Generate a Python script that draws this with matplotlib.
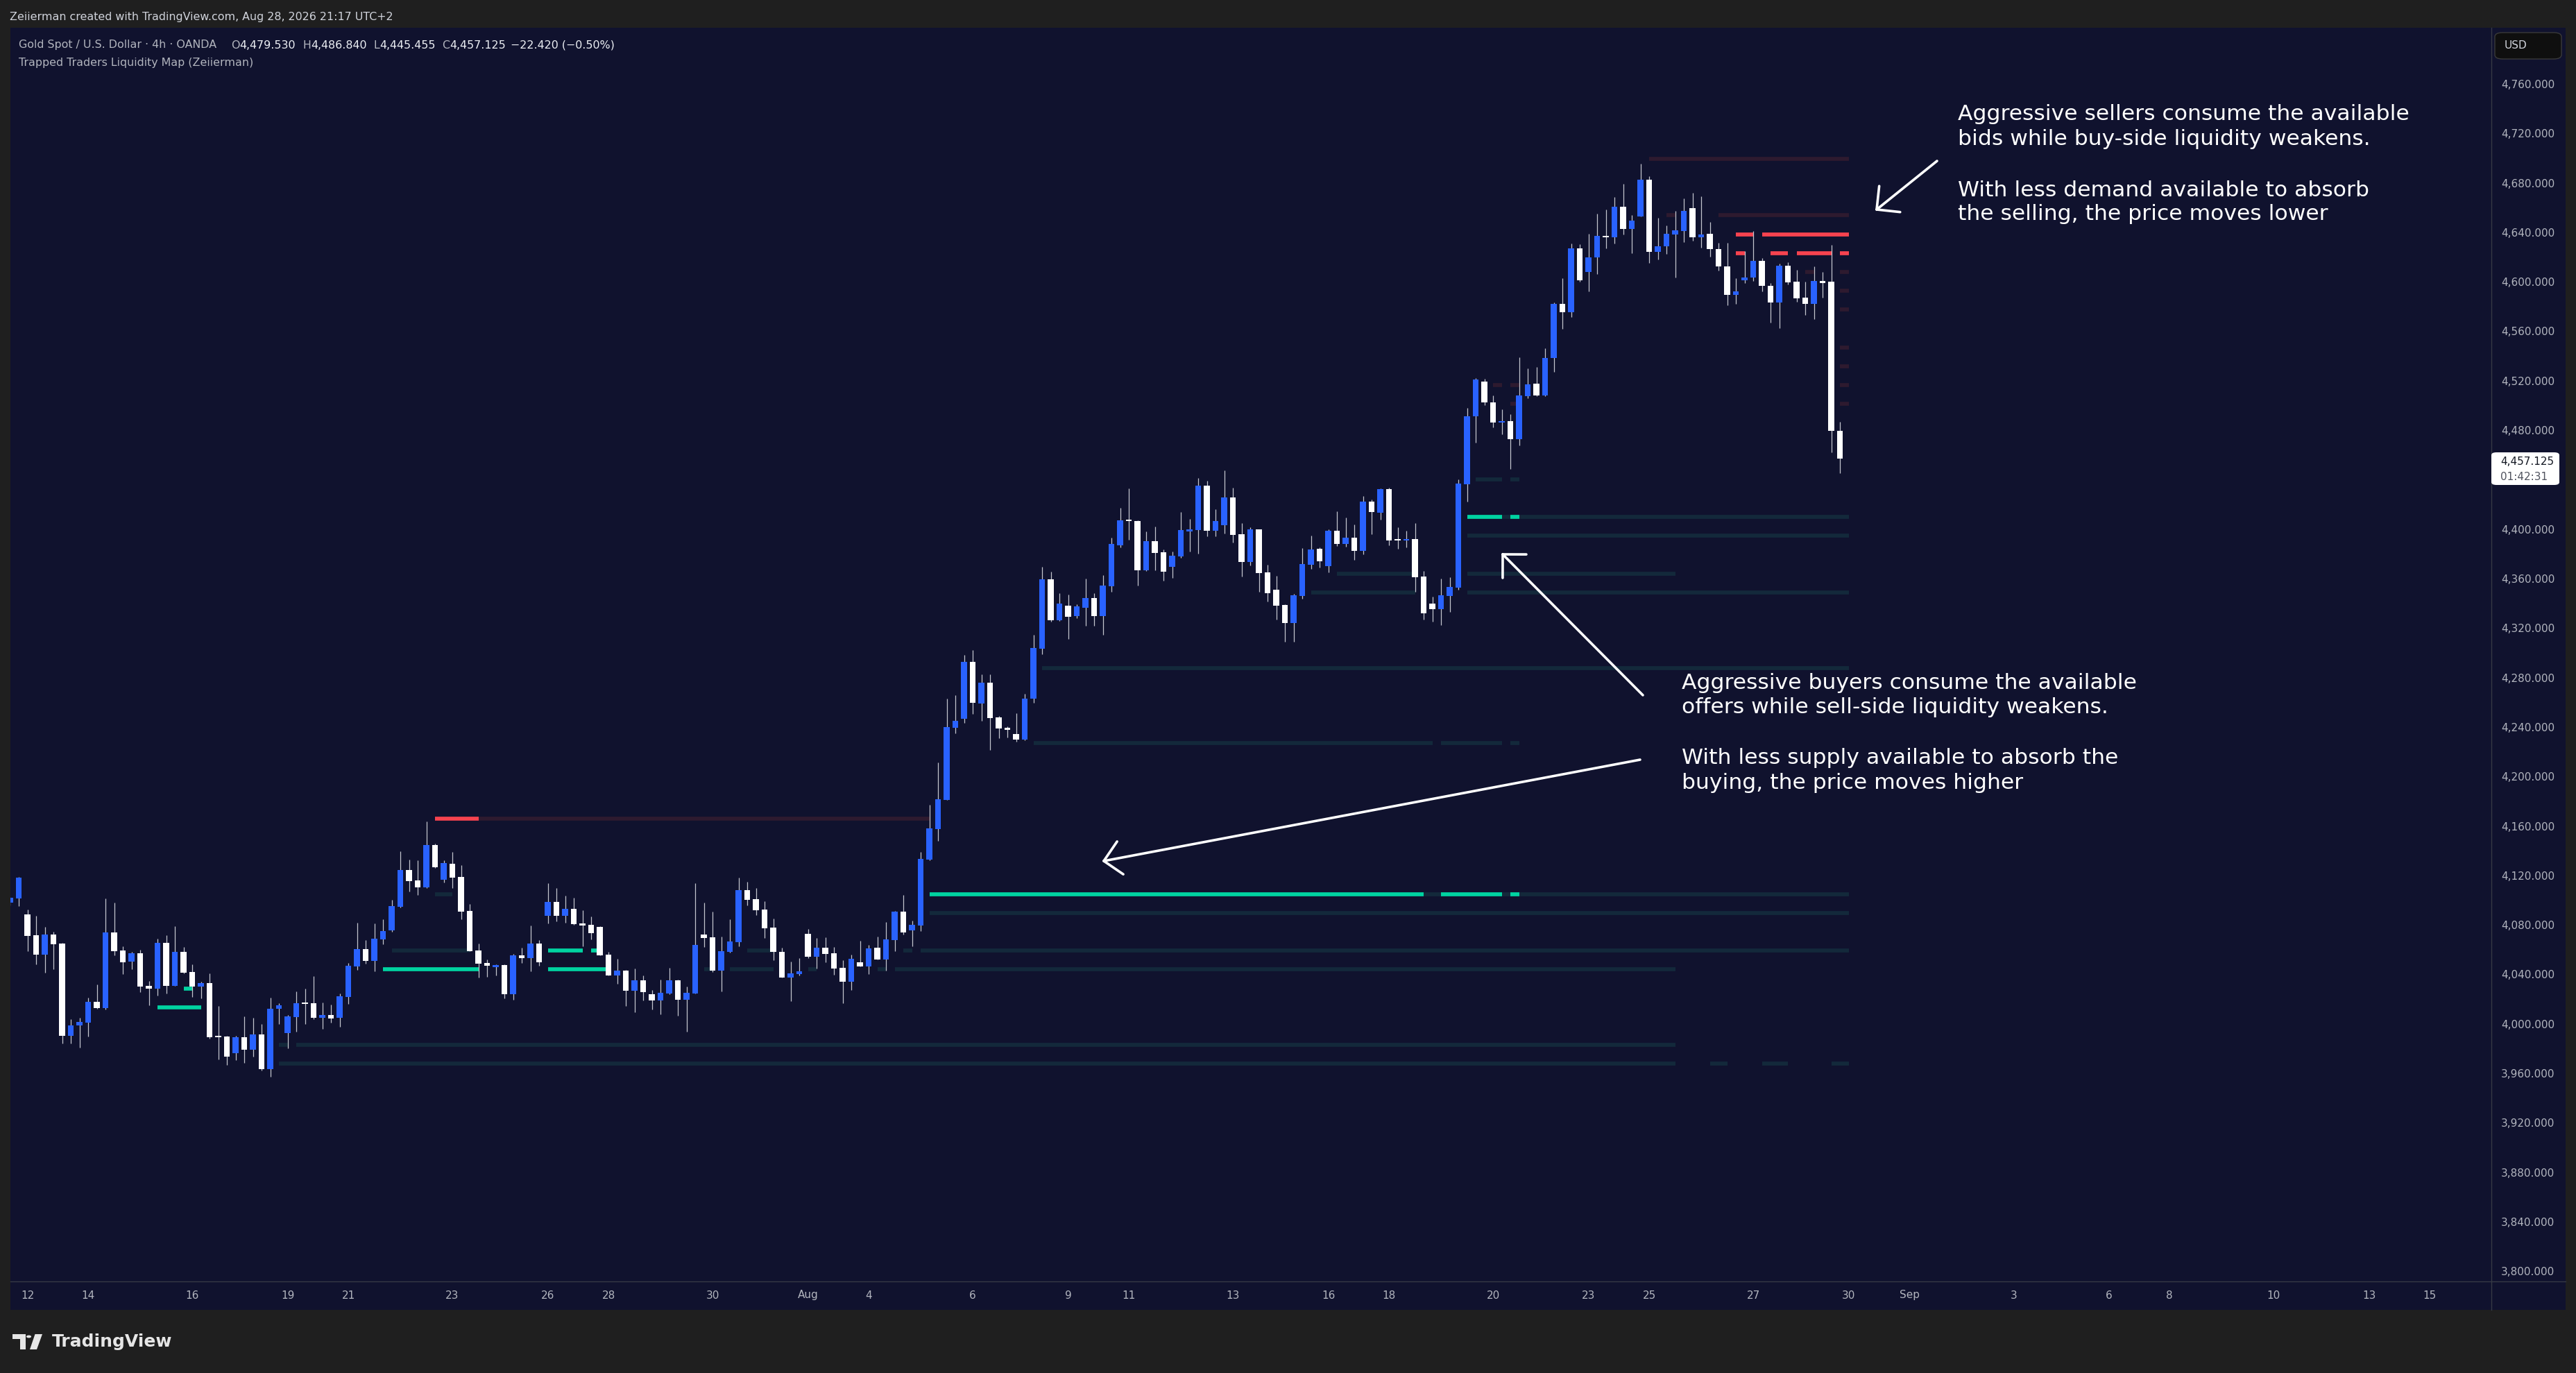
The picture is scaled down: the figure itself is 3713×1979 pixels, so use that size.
import matplotlib
matplotlib.use("Agg")
import numpy as np
import matplotlib.pyplot as plt
from matplotlib.patches import Rectangle, FancyBboxPatch, Polygon, Circle
from matplotlib.lines import Line2D

W, H = 3713, 1979

# 4h candles (index 0 = first partly visible bar)
opens = [4098.2, 4101.3, 4088.5, 4071.6, 4056.1, 4072.2, 4064.9, 3990.5, 3998.9, 4001.2,
         4017.8, 4012.9, 4073.9, 4059.3, 4050.5, 4057.1, 4030.7, 4028.4, 4065.5, 4030.9,
         4058.2, 4041.9, 4030.3, 4032.9, 3989.8, 3989.8, 3976.5, 3989.2, 3979.3, 3991.4,
         3963.6, 4012.4, 3992.7, 4005.6, 4016.7, 4016.7, 4004.9, 4007.1, 4004.9, 4021.9,
         4046.4, 4060.4, 4050.9, 4068.3, 4075.6, 4094.6, 4124.4, 4116.0, 4110.5, 4144.6,
         4116.7, 4129.4, 4118.8, 4091.3, 4059.3, 4049.2, 4046.0, 4047.5, 4024.1, 4055.4,
         4053.1, 4064.9, 4087.5, 4098.6, 4087.5, 4093.0, 4081.2, 4080.1, 4078.4, 4055.9,
         4039.3, 4043.0, 4026.9, 4035.2, 4023.9, 4018.9, 4024.5, 4035.2, 4019.5, 4024.5,
         4072.2, 4070.0, 4043.0, 4058.2, 4066.0, 4108.1, 4100.8, 4092.4, 4077.8, 4058.2,
         4037.4, 4040.2, 4072.8, 4054.3, 4061.5, 4057.1, 4045.3, 4034.0, 4049.8, 4046.4,
         4061.5, 4052.0, 4067.7, 4090.7, 4075.6, 4079.5, 4132.8, 4157.5, 4181.0, 4239.4,
         4246.9, 4292.7, 4259.2, 4275.9, 4247.8, 4239.4, 4234.3, 4230.0, 4262.9, 4303.4,
         4359.4, 4326.3, 4338.1, 4329.7, 4336.4, 4344.3, 4329.7, 4353.8, 4386.9, 4407.1,
         4406.6, 4366.7, 4390.3, 4381.3, 4369.5, 4377.9, 4398.3, 4399.3, 4435.2, 4398.7,
         4403.2, 4425.6, 4395.9, 4373.5, 4399.8, 4365.1, 4351.0, 4338.7, 4324.1, 4346.0,
         4371.2, 4384.1, 4370.1, 4398.7, 4388.1, 4393.1, 4382.4, 4422.3, 4413.3, 4432.4,
         4391.4, 4390.9, 4392.0, 4361.7, 4339.8, 4335.3, 4346.0, 4352.7, 4436.4, 4491.0,
         4519.3, 4502.5, 4486.5, 4487.3, 4472.5, 4507.6, 4517.6, 4508.0, 4538.4, 4582.2,
         4575.4, 4627.0, 4607.7, 4619.5, 4637.0, 4635.8, 4660.6, 4643.0, 4653.1, 4682.6,
         4624.0, 4628.5, 4638.5, 4641.3, 4659.6, 4635.8, 4638.8, 4626.3, 4612.7, 4589.2,
         4601.0, 4603.2, 4617.0, 4597.0, 4583.4, 4613.0, 4600.2, 4587.2, 4582.4, 4600.7,
         4600.2, 4479.53]
highs = [4102.5, 4118.8, 4092.4, 4087.3, 4078.4, 4074.6, 4065.5, 4003.8, 4005.1, 4021.2,
         4031.8, 4101.4, 4098.0, 4062.7, 4058.4, 4059.9, 4034.6, 4068.8, 4071.6, 4079.0,
         4062.1, 4048.1, 4034.1, 4040.8, 4014.4, 3990.1, 3990.1, 4006.0, 4004.9, 3999.8,
         4021.2, 4016.7, 4007.1, 4026.2, 4028.4, 4038.5, 4017.2, 4015.5, 4024.5, 4049.2,
         4081.7, 4067.7, 4081.2, 4084.5, 4100.3, 4139.5, 4132.8, 4132.2, 4163.6, 4145.7,
         4132.2, 4139.0, 4128.3, 4096.9, 4064.9, 4052.0, 4048.1, 4048.1, 4056.5, 4061.5,
         4079.5, 4067.7, 4113.7, 4109.8, 4103.6, 4101.9, 4091.8, 4086.8, 4079.0, 4058.2,
         4052.6, 4043.8, 4044.7, 4039.1, 4027.3, 4035.7, 4045.3, 4035.7, 4030.1, 4113.7,
         4098.0, 4090.7, 4070.5, 4084.5, 4118.2, 4114.8, 4109.8, 4099.1, 4085.1, 4061.5,
         4050.3, 4053.1, 4076.7, 4069.4, 4070.0, 4062.1, 4051.5, 4055.9, 4067.2, 4063.8,
         4070.5, 4082.3, 4091.3, 4104.2, 4083.4, 4139.0, 4177.1, 4211.3, 4262.9, 4265.7,
         4298.3, 4302.2, 4282.6, 4282.6, 4248.9, 4240.7, 4251.2, 4266.9, 4314.6, 4369.5,
         4365.6, 4348.2, 4347.1, 4339.0, 4360.0, 4348.2, 4362.8, 4393.1, 4417.2, 4432.9,
         4407.1, 4398.1, 4402.1, 4383.6, 4381.9, 4413.8, 4408.2, 4441.5, 4439.1, 4416.1,
         4447.5, 4433.5, 4404.9, 4401.5, 4400.0, 4371.2, 4362.2, 4339.0, 4347.7, 4384.7,
         4394.8, 4385.0, 4399.8, 4414.4, 4409.4, 4403.8, 4426.8, 4424.0, 4432.9, 4433.5,
         4401.5, 4398.7, 4404.9, 4366.2, 4345.4, 4360.0, 4361.1, 4440.2, 4497.8, 4522.3,
         4521.6, 4508.0, 4497.0, 4493.0, 4538.9, 4530.1, 4531.1, 4546.4, 4583.4, 4603.0,
         4630.8, 4630.5, 4638.8, 4655.1, 4658.6, 4668.6, 4679.1, 4654.1, 4695.4, 4685.4,
         4651.8, 4645.5, 4657.3, 4667.3, 4671.9, 4669.1, 4648.1, 4631.5, 4631.3, 4603.0,
         4625.0, 4641.0, 4619.3, 4599.2, 4614.7, 4616.0, 4609.7, 4600.2, 4612.5, 4608.0,
         4629.8, 4486.84]
lows = [4095.5, 4095.4, 4058.9, 4048.1, 4041.5, 4044.3, 3984.1, 3984.1, 3980.7, 3989.9,
        4012.2, 4011.8, 4055.6, 4040.2, 4044.3, 4025.6, 4015.0, 4022.8, 4024.5, 4030.5,
        4040.6, 4021.9, 4020.8, 3988.2, 3971.4, 3966.7, 3970.8, 3968.6, 3973.3, 3962.1,
        3957.4, 4000.0, 3980.4, 3993.8, 4000.0, 4004.0, 3996.1, 4001.2, 3997.6, 4016.3,
        4043.6, 4048.8, 4042.5, 4064.5, 4074.4, 4094.1, 4107.0, 4104.2, 4110.0, 4126.2,
        4114.3, 4109.8, 4084.5, 4058.5, 4037.6, 4038.2, 4039.3, 4020.8, 4019.7, 4049.2,
        4042.6, 4047.0, 4081.2, 4082.9, 4081.7, 4080.2, 4062.8, 4068.5, 4055.2, 4039.0,
        4032.6, 4014.4, 4009.4, 4018.9, 4011.6, 4007.7, 4023.9, 4006.6, 3993.7, 4024.5,
        4062.1, 4041.9, 4026.2, 4057.6, 4062.7, 4095.8, 4087.9, 4069.4, 4051.5, 4037.4,
        4018.3, 4039.1, 4053.1, 4044.7, 4049.8, 4039.7, 4016.7, 4027.3, 4046.4, 4040.2,
        4052.0, 4043.0, 4058.7, 4072.2, 4062.7, 4075.0, 4132.2, 4147.9, 4181.0, 4234.9,
        4243.3, 4250.6, 4245.2, 4221.6, 4231.2, 4231.7, 4228.2, 4229.5, 4259.6, 4298.9,
        4325.2, 4325.8, 4311.2, 4328.0, 4322.0, 4321.9, 4314.6, 4349.3, 4385.0, 4391.4,
        4354.4, 4366.0, 4366.7, 4358.3, 4360.6, 4376.8, 4381.9, 4380.2, 4394.2, 4394.2,
        4396.5, 4389.2, 4361.7, 4370.7, 4349.5, 4341.7, 4327.1, 4309.0, 4309.0, 4343.7,
        4367.9, 4369.0, 4365.1, 4386.4, 4386.0, 4375.2, 4379.6, 4395.9, 4407.7, 4386.9,
        4384.1, 4385.0, 4349.3, 4326.9, 4325.2, 4322.4, 4333.1, 4351.0, 4422.1, 4470.2,
        4500.0, 4482.3, 4476.5, 4448.9, 4467.5, 4505.8, 4507.6, 4507.3, 4527.3, 4561.7,
        4571.7, 4600.0, 4592.5, 4606.5, 4627.0, 4631.0, 4638.5, 4623.3, 4653.1, 4615.5,
        4618.3, 4622.8, 4603.7, 4632.3, 4633.0, 4627.8, 4620.5, 4609.3, 4581.2, 4582.4,
        4599.2, 4600.7, 4592.0, 4567.2, 4562.4, 4598.0, 4583.9, 4573.2, 4570.0, 4587.2,
        4462.2, 4445.455]
closes = [4101.9, 4118.2, 4071.1, 4056.1, 4072.2, 4064.5, 3990.5, 3998.7, 4001.5, 4017.8,
          4012.9, 4073.9, 4058.9, 4050.0, 4057.1, 4030.3, 4028.4, 4065.5, 4030.9, 4058.2,
          4041.5, 4030.3, 4032.9, 3989.4, 3989.4, 3973.6, 3989.2, 3979.3, 3991.4, 3963.6,
          4012.2, 4015.0, 4006.0, 4016.7, 4016.3, 4004.9, 4007.1, 4004.5, 4022.3, 4047.0,
          4060.4, 4050.9, 4068.8, 4075.0, 4095.2, 4124.4, 4115.6, 4110.5, 4144.6, 4126.6,
          4130.0, 4118.2, 4090.7, 4058.9, 4048.6, 4047.0, 4047.5, 4024.1, 4055.4, 4053.1,
          4064.9, 4049.8, 4098.6, 4087.5, 4093.0, 4080.6, 4079.5, 4073.3, 4055.6, 4039.3,
          4043.0, 4026.9, 4035.2, 4025.6, 4018.9, 4025.1, 4035.2, 4019.5, 4025.1, 4063.8,
          4069.4, 4043.0, 4058.7, 4066.6, 4108.1, 4100.2, 4091.8, 4077.3, 4058.2, 4037.4,
          4040.8, 4042.5, 4054.3, 4061.5, 4056.5, 4044.7, 4034.0, 4052.6, 4046.4, 4061.0,
          4052.0, 4068.3, 4090.7, 4073.9, 4080.1, 4133.3, 4158.0, 4181.6, 4239.9, 4245.0,
          4292.7, 4259.8, 4275.9, 4247.4, 4239.0, 4237.9, 4230.0, 4262.9, 4303.9, 4359.4,
          4326.3, 4339.8, 4329.1, 4337.6, 4344.3, 4329.7, 4354.4, 4388.1, 4407.1, 4406.7,
          4366.7, 4390.3, 4380.8, 4365.6, 4378.5, 4399.3, 4399.8, 4435.2, 4398.7, 4406.6,
          4425.6, 4395.3, 4373.5, 4399.8, 4364.5, 4348.2, 4338.1, 4324.1, 4346.5, 4371.8,
          4383.6, 4374.0, 4398.7, 4388.1, 4393.1, 4382.4, 4422.3, 4413.9, 4432.4, 4390.9,
          4391.0, 4392.0, 4361.1, 4331.9, 4335.3, 4346.5, 4353.3, 4436.9, 4491.3, 4521.1,
          4502.3, 4486.5, 4487.3, 4472.5, 4508.0, 4517.1, 4508.0, 4538.4, 4582.2, 4575.4,
          4627.0, 4601.0, 4619.8, 4637.0, 4635.8, 4660.6, 4643.0, 4649.6, 4682.6, 4624.0,
          4628.8, 4638.8, 4641.5, 4657.3, 4635.8, 4638.5, 4626.3, 4612.3, 4589.2, 4592.5,
          4603.5, 4617.0, 4597.0, 4583.4, 4613.0, 4599.7, 4586.4, 4582.4, 4600.7, 4599.0,
          4479.5, 4457.125]

# date labels on the time axis (bar index of each label)
tick_bars = [2, 9, 21, 32, 39, 51, 62, 69, 81, 92, 99, 111, 122, 129, 141, 152, 159,
             171, 182, 189, 201, 212, 219, 231, 242, 249, 261, 272, 279]
tick_labels = ['12', '14', '16', '19', '21', '23', '26', '28', '30', 'Aug', '4', '6',
               '9', '11', '13', '16', '18', '20', '23', '25', '27', '30', 'Sep', '3',
               '6', '8', '10', '13', '15']
price_ticks = [3800, 3840, 3880, 3920, 3960, 4000, 4040, 4080, 4120, 4160, 4200, 4240,
               4280, 4320, 4360, 4400, 4480, 4520, 4560, 4600, 4640, 4680, 4720, 4760]

# liquidity levels: [price, from bar, to bar]
teal_dark = [[4104.8, 49, 51], [4059.4, 44, 53], [4059.4, 85, 88], [4059.4, 103, 104],
             [4059.4, 105, 212], [4043.9, 80, 81], [4043.9, 83, 88], [4043.9, 92, 93],
             [4043.9, 100, 101], [4043.9, 102, 192], [4089.6, 106, 212], [4104.7, 106, 212],
             [3983.0, 31, 32], [3983.0, 33, 192], [3967.9, 31, 192], [3967.9, 196, 198],
             [3967.9, 202, 205], [3967.9, 210, 212], [4227.1, 118, 164], [4227.1, 165, 172],
             [4227.1, 173, 174], [4287.7, 119, 212], [4364.0, 153, 162], [4364.0, 168, 192],
             [4348.9, 150, 162], [4348.9, 168, 212], [4394.7, 168, 212], [4410.0, 168, 212],
             [4440.3, 169, 172], [4440.3, 173, 174]]
teal_bright = [[4013.4, 17, 22], [4028.5, 20, 21], [4044.0, 43, 54], [4059.4, 62, 66],
               [4059.4, 67, 68], [4044.0, 62, 69], [4104.7, 106, 163], [4104.7, 165, 172],
               [4104.7, 173, 174], [4410.0, 168, 172], [4410.0, 173, 174]]
red_dark = [[4166.0, 54, 106], [4699.5, 189, 212], [4654.1, 191, 192], [4654.1, 197, 212],
            [4608.1, 207, 208], [4608.1, 211, 212], [4592.8, 211, 212], [4577.7, 211, 212],
            [4546.8, 211, 212], [4531.7, 211, 212], [4516.4, 211, 212], [4501.4, 211, 212],
            [4516.4, 171, 172], [4516.4, 173, 174], [4501.4, 173, 174]]
red_bright = [[4166.0, 49, 54], [4638.4, 199, 201], [4638.4, 202, 212], [4623.3, 199, 200],
              [4623.3, 203, 205], [4623.3, 206, 210], [4623.3, 211, 212]]

BG = '#10122e'
OUTER = '#1f1f1f'
BLUE = '#2962ff'
WHITE = '#ffffff'
WICK = '#c4c6ce'
GRAY = '#b2b5be'
LW = 4.1

def fx(x):
    return x / W

def fy(y):
    return 1 - y / H

fig = plt.figure(figsize=(W / 100, H / 100), dpi=100, facecolor=OUTER)
fig.add_artist(Rectangle((fx(15), fy(1888)), fx(3698) - fx(15), fy(40) - fy(1888),
                         transform=fig.transFigure, facecolor=BG, edgecolor='none', zorder=-1))

ax = fig.add_axes([fx(15), fy(1847), fx(3591) - fx(15), fy(40) - fy(1847)])
ax.set_facecolor(BG)
ax.set_xlim(0.04, 286.1)
ax.set_ylim(3791.7, 4805.44)
for s in ax.spines.values():
    s.set_visible(False)

# levels under the candles
for segs, col in [(teal_dark, '#13293b'), (red_dark, '#2e1a2f'),
                  (teal_bright, '#00d3a1'), (red_bright, '#f7434f')]:
    for p, a, b in segs:
        ax.hlines(p, a, b, color=col, lw=LW, capstyle='butt', zorder=2)

# candles
o = np.array(opens)
c = np.array(closes)
xs = np.arange(len(o))
colors = np.where(c >= o, BLUE, WHITE)
ax.vlines(xs, lows, highs, color=WICK, lw=0.9, zorder=3)
ax.bar(xs, np.maximum(np.abs(c - o), 0.9), bottom=np.minimum(o, c), width=0.69,
       color=colors, linewidth=0, zorder=4)

# axes
ax.yaxis.tick_right()
ax.set_yticks(price_ticks)
ax.set_yticklabels([f"{p:,.3f}" for p in price_ticks])
ax.set_xticks(tick_bars)
ax.set_xticklabels(tick_labels)
ax.tick_params(axis='y', length=0, pad=10, labelsize=11, labelcolor=GRAY)
ax.tick_params(axis='x', length=0, pad=9, labelsize=11, labelcolor=GRAY)

# separators
fig.add_artist(Line2D([fx(3591), fx(3591)], [fy(40), fy(1888)], transform=fig.transFigure,
                      color='#363a45', lw=1))
fig.add_artist(Line2D([fx(15), fx(3698)], [fy(1847), fy(1847)], transform=fig.transFigure,
                      color='#363a45', lw=1))

# top strip + legend
HS = 11.4
fig.text(fx(14), fy(25), "Zeiierman created with TradingView.com, Aug 28, 2026 21:17 UTC+2",
         color='#d1d4dc', fontsize=HS, va='center', ha='left')
renderer = fig.canvas.get_renderer()

def chain(x, y, parts, size):
    for txt, col in parts:
        t = fig.text(fx(x), fy(y), txt, color=col, fontsize=size, va='center', ha='left')
        x += t.get_window_extent(renderer=renderer).width

chain(27, 65, [("Gold Spot / U.S. Dollar · 4h · OANDA", GRAY)], HS)
VAL = '#eceff4'
for x0, lab, val in [(333, "O", "4,479.530"), (436, "H", "4,486.840"),
                     (538, "L", "4,445.455"), (637, "C", "4,457.125")]:
    chain(x0, 65, [(lab, GRAY), (val, VAL)], HS)
chain(736, 65, [("\u221222.420 (\u22120.50%)", VAL)], HS)
chain(27, 91, [("Trapped Traders Liquidity Map (Zeiierman)", GRAY)], HS)

# USD box
fig.add_artist(FancyBboxPatch((fx(3596), fy(85)), fx(3692) - fx(3596), fy(47) - fy(85),
                              boxstyle="round,pad=0,rounding_size=0.003",
                              transform=fig.transFigure, facecolor='#0f0f0f',
                              edgecolor='#3a3a3a', lw=1, zorder=5))
fig.text(fx(3610), fy(66), "USD", color='#d1d4dc', fontsize=11, va='center', ha='left', zorder=6)

# last price box
fig.add_artist(FancyBboxPatch((fx(3591), fy(699)), fx(3689) - fx(3591), fy(652) - fy(699),
                              boxstyle="round,pad=0,rounding_size=0.002",
                              transform=fig.transFigure, facecolor='#ffffff',
                              edgecolor='none', zorder=5))
fig.text(fx(3604), fy(665), "4,457.125", color='#131722', fontsize=11, va='center', ha='left', zorder=6)
fig.text(fx(3604), fy(687), "01:42:31", color='#50535e', fontsize=11, va='center', ha='left', zorder=6)

# annotations
top_lines = [("Aggressive sellers consume the available", 173),
             ("bids while buy-side liquidity weakens.", 209),
             ("With less demand available to absorb", 283),
             ("the selling, the price moves lower", 317)]
low_lines = [("Aggressive buyers consume the available", 993),
             ("offers while sell-side liquidity weakens.", 1028),
             ("With less supply available to absorb the", 1101),
             ("buying, the price moves higher", 1137)]
for txt, yb in top_lines:
    fig.text(fx(2822), fy(yb), txt, color='white', fontsize=22.6, va='baseline', ha='left')
for txt, yb in low_lines:
    fig.text(fx(2424), fy(yb), txt, color='white', fontsize=22.6, va='baseline', ha='left')

def arrow(tail, tip, head=34):
    d = np.array(tail, float) - np.array(tip, float)
    d /= np.hypot(*d)
    fig.add_artist(Line2D([fx(tail[0]), fx(tip[0])], [fy(tail[1]), fy(tip[1])],
                          transform=fig.transFigure, color='white', lw=2.6,
                          solid_capstyle='round'))
    for ang in (np.pi / 4, -np.pi / 4):
        r = np.array([d[0] * np.cos(ang) - d[1] * np.sin(ang),
                      d[0] * np.sin(ang) + d[1] * np.cos(ang)]) * head
        fig.add_artist(Line2D([fx(tip[0]), fx(tip[0] + r[0])], [fy(tip[1]), fy(tip[1] + r[1])],
                              transform=fig.transFigure, color='white', lw=2.6,
                              solid_capstyle='round'))

arrow((2792, 232), (2705, 302))
arrow((2368, 1002), (2166, 799))
arrow((2364, 1095), (1591, 1241))

# TradingView logo
fig.add_artist(Polygon([(fx(18), fy(1923)), (fx(37), fy(1923)), (fx(37), fy(1945)),
                        (fx(28.5), fy(1945)), (fx(28.5), fy(1930)), (fx(18), fy(1930))],
                       closed=True, transform=fig.transFigure, facecolor='#e6e6e6', edgecolor='none'))
fig.add_artist(Circle((fx(41.5), fy(1926.5)), 3.6 / W, transform=fig.transFigure,
                      facecolor='#e6e6e6', edgecolor='none'))
fig.add_artist(Polygon([(fx(50.5), fy(1923)), (fx(61), fy(1923)), (fx(53), fy(1945)),
                        (fx(43), fy(1945))], closed=True, transform=fig.transFigure,
                       facecolor='#e6e6e6', edgecolor='none'))
fig.text(fx(75), fy(1934), "TradingView", color='#e6e6e6', fontsize=18, fontweight='bold',
         va='center', ha='left')

fig.savefig("out.png", dpi=100, facecolor=OUTER)
